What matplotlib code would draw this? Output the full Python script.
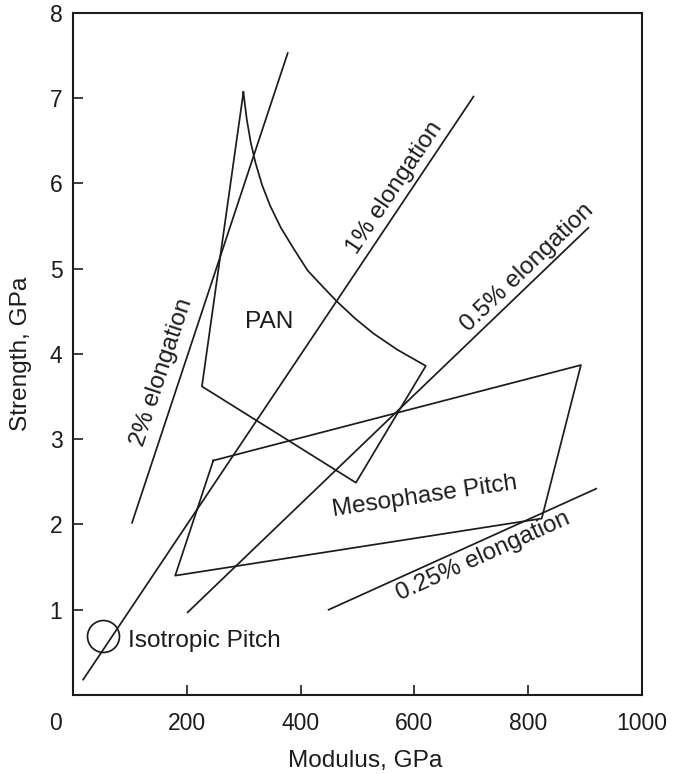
import numpy as np
import matplotlib
matplotlib.use("Agg")
import matplotlib.pyplot as plt
from matplotlib.transforms import ScaledTranslation

plt.rcParams['font.family'] = ['Liberation Sans', 'DejaVu Sans']

# Data (modulus in GPa, strength in GPa)
# PAN region: peak, left corner, bottom corner, right corner, then the curved edge back to the peak
pan_modulus = [299, 226, 497, 620, 570, 528, 495, 463, 440, 412, 387, 365, 346, 332, 320, 312, 305, 299]
pan_strength = [7.07, 3.62, 2.49, 3.86, 4.05, 4.24, 4.42, 4.62, 4.78, 4.98, 5.24, 5.48, 5.74, 5.98, 6.25, 6.48, 6.75, 7.07]

meso_modulus = [246, 893, 824, 179, 246]
meso_strength = [2.75, 3.87, 2.07, 1.40, 2.75]

iso_modulus = 52.5
iso_strength = 0.69

elong_labels = ["2% elongation", "1% elongation", "0.5% elongation", "0.25% elongation"]
elong_x0 = [103, 17, 201, 449]
elong_x1 = [377, 704, 906, 920]
elong_y0 = [2.02, 0.18, 0.97, 1.00]
elong_y1 = [7.53, 7.02, 5.48, 2.42]
elong_label_x = [156, 565, 798, 721]
elong_label_y = [3.79, 5.95, 5.01, 1.63]

x_ticks = [0, 200, 400, 600, 800, 1000]
y_ticks = [1, 2, 3, 4, 5, 6, 7, 8]

ink = '#1c1c1c'
fs = 16.5   # tick labels
fs2 = 17.6  # annotations and axis titles

fig = plt.figure(figsize=(6.78, 7.74), dpi=100)
ax = fig.add_axes([0.1084, 0.1021, 0.8381, 0.8811])
ax.set_xlim(0, 1000)
ax.set_ylim(0, 8)

# PAN region and mesophase pitch region
ax.plot(pan_modulus, pan_strength, color=ink, lw=1.25)
ax.plot(meso_modulus, meso_strength, color=ink, lw=1.25)

# isotropic pitch
ax.plot(iso_modulus, iso_strength, marker='o', ms=23, mfc='none', mec=ink, mew=1.25)
ax.text(96, 0.563, "Isotropic Pitch", fontsize=fs2, color=ink, ha='left', va='baseline')

ax.text(344, 4.30, "PAN", fontsize=fs2, color=ink, ha='center', va='baseline')
ax.text(619, 2.33, "Mesophase Pitch", fontsize=fs2, color=ink, ha='center', va='center',
        rotation=8.4, rotation_mode='anchor')

# constant elongation lines
for i in range(len(elong_labels)):
    ax.plot([elong_x0[i], elong_x1[i]], [elong_y0[i], elong_y1[i]], color=ink, lw=1.25)
    p0 = ax.transData.transform((elong_x0[i], elong_y0[i]))
    p1 = ax.transData.transform((elong_x1[i], elong_y1[i]))
    ang = np.degrees(np.arctan2(p1[1] - p0[1], p1[0] - p0[0]))
    ax.text(elong_label_x[i], elong_label_y[i], elong_labels[i], fontsize=fs2, color=ink,
            ha='center', va='center', rotation=ang, rotation_mode='anchor')

ax.set_xticks(x_ticks)
ax.set_yticks(y_ticks)
ax.tick_params(axis='both', direction='in', length=7, width=1.2, colors=ink, labelsize=fs)
ax.tick_params(axis='x', pad=12)
ax.tick_params(axis='y', pad=8)
for s in ax.spines.values():
    s.set_linewidth(1.5)
    s.set_color(ink)

# the "0" label sits a bit left of the corner in the original
xt = ax.xaxis.get_major_ticks()
xt[0].label1.set_transform(xt[0].label1.get_transform() + ScaledTranslation(-0.18, 0, fig.dpi_scale_trans))

fig.text(365 / 678, 1 - 767 / 774, "Modulus, GPa", fontsize=fs2, color=ink, ha='center', va='baseline')
fig.text(27 / 678, 1 - 354 / 774, "Strength, GPa", fontsize=fs2, color=ink, ha='center', va='baseline',
         rotation=90, rotation_mode='anchor')

fig.savefig("out.png", dpi=100)
